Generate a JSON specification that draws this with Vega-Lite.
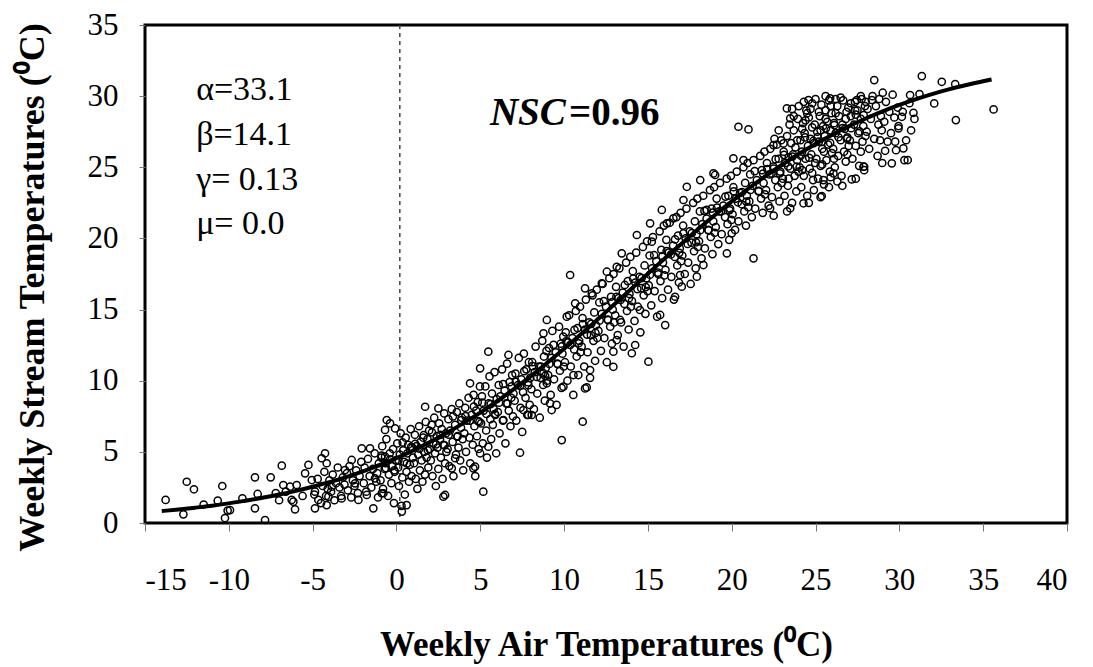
{
  "$schema": "https://vega.github.io/schema/vega-lite/v6.json",
  "width": 922,
  "height": 498,
  "autosize": {"type": "none"},
  "padding": {"left": 145, "top": 25, "right": 26, "bottom": 144},
  "background": "white",
  "config": {
    "view": {"stroke": "black", "strokeWidth": 3},
    "font": "Liberation Serif"
  },
  "datasets": {
    "obs": [
      {"air":-13.77,"stream":1.62},{"air":-12.71,"stream":0.61},{"air":-12.51,"stream":2.9},{"air":-12.08,"stream":2.37},{"air":-10.39,"stream":2.6},{"air":-10.66,"stream":1.57},{"air":-10.07,"stream":0.87},{"air":-10.23,"stream":0.35},{"air":-9.93,"stream":0.91},{"air":-9.19,"stream":1.73},{"air":-8.44,"stream":3.21},{"air":-7.5,"stream":3.21},{"air":-6.84,"stream":4.03},{"air":-8.28,"stream":2.04},{"air":-8.44,"stream":1.03},{"air":-7.84,"stream":0.21},{"air":-6.75,"stream":2.67},{"air":-6.25,"stream":1.62},{"air":-6.05,"stream":0.96},{"air":-5.95,"stream":2.67},{"air":-6.15,"stream":1.5},{"air":-6.35,"stream":2.55},{"air":-5.25,"stream":4.08},{"air":-5.45,"stream":3.49},{"air":-5.05,"stream":3.02},{"air":-5.6,"stream":1.9},{"air":-6.6,"stream":2.2},{"air":-7.2,"stream":2.1},{"air":-7.0,"stream":1.6},{"air":-11.5,"stream":1.3},
      {"air":-4.46,"stream":4.55},{"air":-4.26,"stream":4.9},{"air":-4.16,"stream":4.2},{"air":-4.86,"stream":2.2},{"air":-4.66,"stream":1.62},{"air":-4.86,"stream":1.03},{"air":-4.16,"stream":1.26},{"air":-4.06,"stream":1.85},{"air":-3.86,"stream":2.55},{"air":-3.27,"stream":1.73},{"air":-3.07,"stream":3.72},{"air":-2.67,"stream":4.43},{"air":-2.47,"stream":2.79},{"air":-2.07,"stream":5.25},{"air":-1.58,"stream":5.25},{"air":-2.27,"stream":1.62},{"air":-1.77,"stream":1.97},{"air":-1.38,"stream":1.03},{"air":-1.28,"stream":3.14},{"air":-0.88,"stream":2.09},{"air":-0.68,"stream":4.66},{"air":-0.68,"stream":6.54},{"air":-0.38,"stream":7.0},{"air":-0.58,"stream":7.24},{"air":-0.08,"stream":6.65},{"air":-0.78,"stream":2.09},{"air":0.32,"stream":0.8},{"air":0.61,"stream":1.26},
      {"air":1.71,"stream":8.17},{"air":2.5,"stream":8.06},{"air":2.9,"stream":1.97},{"air":2.8,"stream":1.85},{"air":3.3,"stream":3.84},{"air":3.5,"stream":4.55},{"air":4.39,"stream":9.82},{"air":4.99,"stream":10.87},{"air":5.48,"stream":12.04},{"air":5.18,"stream":2.2},{"air":4.69,"stream":3.96},{"air":4.59,"stream":3.84},{"air":4.99,"stream":4.9},{"air":5.48,"stream":5.36},{"air":6.38,"stream":7.24},{"air":6.68,"stream":11.81},{"air":7.37,"stream":4.94},{"air":7.57,"stream":7.94},{"air":7.87,"stream":7.59},{"air":8.07,"stream":7.59},{"air":9.16,"stream":8.41},{"air":9.26,"stream":7.94},{"air":9.86,"stream":5.83},{"air":9.96,"stream":9.58},{"air":10.56,"stream":10.4},{"air":8.97,"stream":9.82},{"air":8.77,"stream":10.52},{"air":11.11,"stream":7.12},{"air":11.25,"stream":9.46},{"air":11.35,"stream":9.53},{"air":11.55,"stream":10.75},{"air":12.94,"stream":10.98},{"air":12.94,"stream":12.04},{"air":14.04,"stream":11.93},{"air":14.24,"stream":12.51},{"air":15.03,"stream":11.34},{"air":13.14,"stream":12.86},{"air":13.34,"stream":14.27},{"air":14.53,"stream":14.97},{"air":16.03,"stream":13.91},{"air":15.73,"stream":14.62},
      {"air":10.36,"stream":17.43},{"air":11.25,"stream":16.49},{"air":11.65,"stream":16.14},{"air":10.66,"stream":15.44},{"air":12.25,"stream":16.84},{"air":12.55,"stream":17.66},{"air":13.14,"stream":18.01},{"air":13.44,"stream":18.95},{"air":14.34,"stream":20.24},{"air":15.13,"stream":21.06},{"air":15.23,"stream":19.77},{"air":15.83,"stream":22.0},{"air":16.52,"stream":21.41},{"air":16.13,"stream":21.06},{"air":17.32,"stream":23.63},{"air":17.12,"stream":22.7},{"air":18.91,"stream":24.57},{"air":18.12,"stream":24.1},{"air":8.97,"stream":14.27},{"air":10.16,"stream":14.5},{"air":8.77,"stream":13.33},
      {"air":20.0,"stream":20.36},{"air":19.71,"stream":18.95},{"air":18.31,"stream":18.13},{"air":17.92,"stream":17.31},{"air":16.92,"stream":17.43},{"air":17.02,"stream":16.61},{"air":16.62,"stream":15.9},{"air":21.3,"stream":18.6},{"air":20.4,"stream":27.85},{"air":21.0,"stream":27.66},{"air":20.1,"stream":25.63},{"air":20.7,"stream":25.51},{"air":19.01,"stream":24.46},{"air":18.51,"stream":22.0},{"air":25.37,"stream":22.98},{"air":27.16,"stream":24.15},{"air":24.28,"stream":22.47},{"air":23.49,"stream":22.12},{"air":22.29,"stream":22.12},{"air":25.47,"stream":24.1},{"air":26.07,"stream":24.57},{"air":27.86,"stream":25.04},{"air":22.49,"stream":26.56},{"air":23.09,"stream":26.68},{"air":23.29,"stream":29.14},{"air":23.49,"stream":28.44},{"air":24.58,"stream":29.73},{"air":25.87,"stream":29.85},{"air":27.46,"stream":29.73},{"air":28.36,"stream":29.73},{"air":22.49,"stream":25.04},
      {"air":28.5,"stream":31.13},{"air":31.34,"stream":31.41},{"air":32.53,"stream":31.01},{"air":33.33,"stream":30.85},{"air":29.01,"stream":30.24},{"air":30.64,"stream":30.08},{"air":31.2,"stream":30.15},{"air":32.08,"stream":29.49},{"air":30.84,"stream":28.83},{"air":33.37,"stream":28.32},{"air":35.62,"stream":29.07},{"air":30.5,"stream":25.51},{"air":29.55,"stream":25.28},{"air":30.24,"stream":26.33},{"air":29.95,"stream":27.74},{"air":29.15,"stream":26.16},{"air":27.9,"stream":25.04},{"air":29.75,"stream":26.8},{"air":30.15,"stream":28.55},
      {"air":-4.9,"stream":2.0},{"air":-4.7,"stream":3.1},{"air":-4.5,"stream":1.4},{"air":-4.4,"stream":2.6},{"air":-4.3,"stream":3.6},{"air":-4.2,"stream":1.9},{"air":-4.1,"stream":2.4},{"air":-4.0,"stream":3.0},
      {"air":-3.9,"stream":2.2},{"air":-3.8,"stream":3.4},{"air":-3.7,"stream":1.6},{"air":-3.6,"stream":2.8},{"air":-3.5,"stream":3.9},{"air":-3.4,"stream":2.5},{"air":-3.3,"stream":1.9},{"air":-3.2,"stream":3.2},{"air":-3.1,"stream":2.7},
      {"air":-2.95,"stream":3.5},{"air":-2.9,"stream":2.3},{"air":-2.8,"stream":4.0},{"air":-2.7,"stream":1.8},{"air":-2.6,"stream":3.0},{"air":-2.5,"stream":2.6},{"air":-2.4,"stream":3.7},{"air":-2.3,"stream":2.1},{"air":-2.2,"stream":3.3},{"air":-2.1,"stream":4.3},
      {"air":-1.95,"stream":2.8},{"air":-1.9,"stream":3.9},{"air":-1.8,"stream":2.2},{"air":-1.7,"stream":4.5},{"air":-1.6,"stream":3.3},{"air":-1.5,"stream":2.5},{"air":-1.4,"stream":3.8},{"air":-1.3,"stream":4.9},{"air":-1.2,"stream":2.9},{"air":-1.15,"stream":3.5},{"air":-1.1,"stream":1.8},{"air":-1.05,"stream":4.2},
      {"air":-0.95,"stream":3.0},{"air":-0.9,"stream":4.6},{"air":-0.85,"stream":5.4},{"air":-0.8,"stream":2.4},{"air":-0.7,"stream":3.8},{"air":-0.65,"stream":4.2},{"air":-0.6,"stream":5.9},{"air":-0.5,"stream":1.9},{"air":-0.45,"stream":3.4},{"air":-0.4,"stream":4.9},{"air":-0.3,"stream":2.8},{"air":-0.25,"stream":4.0},{"air":-0.2,"stream":5.2},{"air":-0.15,"stream":1.4},{"air":-0.1,"stream":3.6},{"air":-0.05,"stream":4.4},
      {"air":0.05,"stream":5.6},{"air":0.1,"stream":3.9},{"air":0.15,"stream":2.6},{"air":0.2,"stream":4.8},{"air":0.25,"stream":6.3},{"air":0.3,"stream":1.2},{"air":0.35,"stream":3.2},{"air":0.4,"stream":5.1},{"air":0.45,"stream":4.3},{"air":0.5,"stream":2.0},{"air":0.55,"stream":6.0},{"air":0.6,"stream":3.6},{"air":0.65,"stream":4.9},{"air":0.7,"stream":5.5},{"air":0.75,"stream":2.9},{"air":0.8,"stream":4.1},{"air":0.85,"stream":6.6},{"air":0.9,"stream":3.3},{"air":0.95,"stream":5.3},{"air":0.98,"stream":4.6},
      {"air":1.05,"stream":4.2},{"air":1.1,"stream":6.2},{"air":1.15,"stream":3.1},{"air":1.2,"stream":5.4},{"air":1.25,"stream":2.4},{"air":1.3,"stream":4.8},{"air":1.35,"stream":6.8},{"air":1.4,"stream":3.7},{"air":1.45,"stream":5.7},{"air":1.5,"stream":4.4},{"air":1.55,"stream":2.9},{"air":1.6,"stream":6.0},{"air":1.65,"stream":5.0},{"air":1.7,"stream":3.4},{"air":1.75,"stream":7.1},{"air":1.8,"stream":4.6},{"air":1.85,"stream":5.9},{"air":1.9,"stream":3.9},{"air":1.95,"stream":6.5},{"air":1.98,"stream":5.2},
      {"air":2.05,"stream":4.4},{"air":2.1,"stream":6.9},{"air":2.15,"stream":3.3},{"air":2.2,"stream":5.6},{"air":2.25,"stream":7.4},{"air":2.3,"stream":4.9},{"air":2.35,"stream":2.6},{"air":2.4,"stream":6.1},{"air":2.45,"stream":5.3},{"air":2.5,"stream":3.8},{"air":2.55,"stream":7.0},{"air":2.6,"stream":5.9},{"air":2.65,"stream":4.6},{"air":2.7,"stream":6.6},{"air":2.75,"stream":3.1},{"air":2.8,"stream":5.5},{"air":2.85,"stream":7.7},{"air":2.9,"stream":4.2},{"air":2.95,"stream":6.3},{"air":2.98,"stream":5.0},
      {"air":3.05,"stream":5.2},{"air":3.1,"stream":7.3},{"air":3.15,"stream":4.0},{"air":3.2,"stream":6.5},{"air":3.3,"stream":8.0},{"air":3.35,"stream":5.7},{"air":3.4,"stream":3.3},{"air":3.5,"stream":6.9},{"air":3.55,"stream":4.8},{"air":3.6,"stream":7.8},{"air":3.65,"stream":6.1},{"air":3.7,"stream":5.3},{"air":3.75,"stream":8.4},{"air":3.8,"stream":4.4},{"air":3.85,"stream":6.7},{"air":3.9,"stream":7.4},{"air":3.95,"stream":5.9},{"air":3.98,"stream":3.7},
      {"air":4.05,"stream":6.3},{"air":4.1,"stream":8.1},{"air":4.15,"stream":5.0},{"air":4.2,"stream":7.2},{"air":4.3,"stream":8.8},{"air":4.35,"stream":6.0},{"air":4.4,"stream":4.2},{"air":4.5,"stream":7.6},{"air":4.55,"stream":5.5},{"air":4.6,"stream":9.0},{"air":4.65,"stream":6.8},{"air":4.7,"stream":3.3},{"air":4.75,"stream":7.9},{"air":4.8,"stream":6.1},{"air":4.85,"stream":8.5},{"air":4.9,"stream":5.2},{"air":4.95,"stream":7.1},{"air":4.98,"stream":9.6},
      {"air":5.05,"stream":7.0},{"air":5.1,"stream":8.9},{"air":5.15,"stream":5.6},{"air":5.2,"stream":7.9},{"air":5.3,"stream":9.6},{"air":5.35,"stream":6.5},{"air":5.4,"stream":4.6},{"air":5.5,"stream":8.4},{"air":5.55,"stream":10.3},{"air":5.6,"stream":7.3},{"air":5.65,"stream":5.9},{"air":5.7,"stream":9.1},{"air":5.75,"stream":6.9},{"air":5.8,"stream":8.0},{"air":5.85,"stream":10.6},{"air":5.9,"stream":7.6},{"air":5.95,"stream":4.9},{"air":5.98,"stream":8.7},
      {"air":6.05,"stream":7.8},{"air":6.1,"stream":9.7},{"air":6.15,"stream":6.3},{"air":6.2,"stream":8.9},{"air":6.3,"stream":10.8},{"air":6.35,"stream":7.2},{"air":6.45,"stream":9.3},{"air":6.5,"stream":5.6},{"air":6.55,"stream":8.4},{"air":6.6,"stream":11.2},{"air":6.7,"stream":7.9},{"air":6.75,"stream":9.9},{"air":6.8,"stream":6.8},{"air":6.85,"stream":8.8},{"air":6.9,"stream":10.4},{"air":6.95,"stream":7.5},{"air":6.98,"stream":9.1},
      {"air":7.05,"stream":8.6},{"air":7.1,"stream":10.5},{"air":7.15,"stream":7.2},{"air":7.25,"stream":9.7},{"air":7.3,"stream":11.6},{"air":7.4,"stream":8.1},{"air":7.45,"stream":10.1},{"air":7.5,"stream":6.4},{"air":7.55,"stream":9.2},{"air":7.6,"stream":11.9},{"air":7.7,"stream":8.8},{"air":7.75,"stream":10.8},{"air":7.8,"stream":7.6},{"air":7.85,"stream":9.9},{"air":7.9,"stream":11.3},{"air":7.95,"stream":8.3},{"air":7.98,"stream":10.2},
      {"air":8.05,"stream":9.4},{"air":8.1,"stream":11.3},{"air":8.2,"stream":8.0},{"air":8.25,"stream":10.6},{"air":8.3,"stream":12.4},{"air":8.4,"stream":9.1},{"air":8.5,"stream":11.0},{"air":8.55,"stream":7.4},{"air":8.6,"stream":10.2},{"air":8.7,"stream":12.8},{"air":8.75,"stream":9.7},{"air":8.8,"stream":11.7},{"air":8.85,"stream":8.6},{"air":8.9,"stream":10.9},{"air":8.95,"stream":12.1},{"air":8.98,"stream":10.0},
      {"air":9.05,"stream":10.4},{"air":9.1,"stream":12.3},{"air":9.2,"stream":9.0},{"air":9.25,"stream":11.6},{"air":9.3,"stream":13.5},{"air":9.4,"stream":10.1},{"air":9.5,"stream":12.0},{"air":9.55,"stream":8.3},{"air":9.6,"stream":11.2},{"air":9.7,"stream":13.8},{"air":9.75,"stream":10.7},{"air":9.8,"stream":12.6},{"air":9.85,"stream":9.5},{"air":9.9,"stream":11.9},{"air":9.95,"stream":13.1},{"air":9.98,"stream":11.0},
      {"air":10.05,"stream":11.3},{"air":10.1,"stream":13.4},{"air":10.2,"stream":10.0},{"air":10.25,"stream":12.7},{"air":10.3,"stream":14.6},{"air":10.4,"stream":11.0},{"air":10.5,"stream":13.0},{"air":10.55,"stream":9.0},{"air":10.6,"stream":12.2},{"air":10.7,"stream":14.9},{"air":10.75,"stream":11.7},{"air":10.8,"stream":13.7},{"air":10.85,"stream":10.4},{"air":10.9,"stream":12.8},{"air":10.95,"stream":15.2},{"air":10.98,"stream":12.0},
      {"air":11.05,"stream":12.4},{"air":11.1,"stream":14.4},{"air":11.2,"stream":11.0},{"air":11.25,"stream":13.6},{"air":11.3,"stream":15.7},{"air":11.4,"stream":12.0},{"air":11.5,"stream":14.1},{"air":11.55,"stream":10.2},{"air":11.6,"stream":13.2},{"air":11.7,"stream":16.0},{"air":11.75,"stream":12.8},{"air":11.8,"stream":14.8},{"air":11.85,"stream":11.4},{"air":11.9,"stream":13.9},{"air":11.95,"stream":16.4},{"air":11.98,"stream":13.0},
      {"air":12.05,"stream":13.5},{"air":12.1,"stream":15.5},{"air":12.2,"stream":12.1},{"air":12.25,"stream":14.7},{"air":12.3,"stream":16.8},{"air":12.4,"stream":13.0},{"air":12.5,"stream":15.2},{"air":12.55,"stream":11.3},{"air":12.6,"stream":14.3},{"air":12.7,"stream":17.2},{"air":12.75,"stream":13.8},{"air":12.8,"stream":15.9},{"air":12.85,"stream":12.6},{"air":12.9,"stream":15.0},{"air":12.95,"stream":17.5},{"air":12.98,"stream":14.1},
      {"air":13.05,"stream":14.6},{"air":13.1,"stream":16.6},{"air":13.2,"stream":13.2},{"air":13.25,"stream":15.8},{"air":13.3,"stream":17.9},{"air":13.4,"stream":14.1},{"air":13.5,"stream":16.2},{"air":13.55,"stream":12.4},{"air":13.6,"stream":15.4},{"air":13.7,"stream":18.3},{"air":13.75,"stream":14.9},{"air":13.8,"stream":17.0},{"air":13.85,"stream":13.6},{"air":13.9,"stream":16.1},{"air":13.95,"stream":18.7},{"air":13.98,"stream":15.2},
      {"air":14.05,"stream":15.6},{"air":14.1,"stream":17.7},{"air":14.2,"stream":14.2},{"air":14.25,"stream":16.9},{"air":14.3,"stream":19.0},{"air":14.4,"stream":15.2},{"air":14.5,"stream":17.3},{"air":14.55,"stream":13.4},{"air":14.6,"stream":16.5},{"air":14.7,"stream":19.4},{"air":14.75,"stream":16.0},{"air":14.8,"stream":18.1},{"air":14.85,"stream":14.7},{"air":14.9,"stream":17.2},{"air":14.95,"stream":19.8},{"air":14.98,"stream":16.3},
      {"air":15.05,"stream":16.7},{"air":15.1,"stream":18.8},{"air":15.2,"stream":15.3},{"air":15.25,"stream":17.9},{"air":15.3,"stream":20.1},{"air":15.4,"stream":16.3},{"air":15.5,"stream":18.4},{"air":15.55,"stream":14.5},{"air":15.6,"stream":17.6},{"air":15.7,"stream":20.5},{"air":15.75,"stream":17.0},{"air":15.8,"stream":19.2},{"air":15.85,"stream":15.8},{"air":15.9,"stream":18.3},{"air":15.95,"stream":20.9},{"air":15.98,"stream":17.4},
      {"air":16.05,"stream":17.8},{"air":16.1,"stream":19.9},{"air":16.2,"stream":16.4},{"air":16.25,"stream":19.0},{"air":16.3,"stream":21.1},{"air":16.4,"stream":17.3},{"air":16.5,"stream":19.5},{"air":16.55,"stream":15.7},{"air":16.6,"stream":18.7},{"air":16.7,"stream":21.5},{"air":16.75,"stream":18.1},{"air":16.8,"stream":20.2},{"air":16.85,"stream":16.9},{"air":16.9,"stream":19.3},{"air":16.95,"stream":21.8},{"air":16.98,"stream":18.4},
      {"air":17.05,"stream":18.8},{"air":17.1,"stream":20.9},{"air":17.2,"stream":17.5},{"air":17.25,"stream":20.0},{"air":17.3,"stream":22.1},{"air":17.4,"stream":18.3},{"air":17.5,"stream":20.5},{"air":17.55,"stream":16.8},{"air":17.6,"stream":19.7},{"air":17.7,"stream":22.5},{"air":17.75,"stream":19.1},{"air":17.8,"stream":21.2},{"air":17.85,"stream":17.9},{"air":17.9,"stream":20.3},{"air":17.95,"stream":22.8},{"air":17.98,"stream":19.4},
      {"air":18.05,"stream":19.8},{"air":18.1,"stream":21.9},{"air":18.2,"stream":18.6},{"air":18.25,"stream":21.0},{"air":18.3,"stream":23.0},{"air":18.4,"stream":19.3},{"air":18.5,"stream":21.4},{"air":18.6,"stream":20.6},{"air":18.7,"stream":23.4},{"air":18.75,"stream":20.1},{"air":18.8,"stream":22.1},{"air":18.85,"stream":18.9},{"air":18.9,"stream":21.2},{"air":18.95,"stream":23.6},{"air":18.98,"stream":20.4},
      {"air":19.05,"stream":20.8},{"air":19.1,"stream":22.8},{"air":19.2,"stream":19.6},{"air":19.25,"stream":21.9},{"air":19.3,"stream":23.9},{"air":19.4,"stream":20.3},{"air":19.5,"stream":22.3},{"air":19.6,"stream":21.5},{"air":19.7,"stream":24.2},{"air":19.75,"stream":21.0},{"air":19.8,"stream":23.0},{"air":19.85,"stream":19.9},{"air":19.9,"stream":22.1},{"air":19.95,"stream":24.4},{"air":19.98,"stream":21.3},
      {"air":20.05,"stream":21.7},{"air":20.1,"stream":23.6},{"air":20.2,"stream":20.6},{"air":20.25,"stream":22.8},{"air":20.3,"stream":24.7},{"air":20.4,"stream":21.2},{"air":20.5,"stream":23.2},{"air":20.6,"stream":22.4},{"air":20.7,"stream":25.0},{"air":20.75,"stream":21.9},{"air":20.8,"stream":23.9},{"air":20.85,"stream":20.9},{"air":20.9,"stream":23.0},{"air":20.95,"stream":25.3},{"air":20.98,"stream":22.2},
      {"air":21.05,"stream":22.6},{"air":21.1,"stream":24.5},{"air":21.2,"stream":21.5},{"air":21.25,"stream":23.7},{"air":21.3,"stream":25.5},{"air":21.4,"stream":22.1},{"air":21.5,"stream":24.1},{"air":21.6,"stream":23.3},{"air":21.7,"stream":25.8},{"air":21.75,"stream":22.8},{"air":21.8,"stream":24.8},{"air":21.85,"stream":21.8},{"air":21.9,"stream":23.9},{"air":21.95,"stream":26.1},{"air":21.98,"stream":23.1},
      {"air":22.05,"stream":23.4},{"air":22.1,"stream":25.3},{"air":22.2,"stream":22.3},{"air":22.25,"stream":24.5},{"air":22.3,"stream":26.3},{"air":22.4,"stream":22.9},{"air":22.5,"stream":24.9},{"air":22.55,"stream":27.0},{"air":22.6,"stream":24.1},{"air":22.7,"stream":26.6},{"air":22.75,"stream":23.6},{"air":22.8,"stream":25.6},{"air":22.85,"stream":22.6},{"air":22.9,"stream":24.7},{"air":22.95,"stream":26.9},{"air":22.98,"stream":23.9},{"air":22.5,"stream":21.6},{"air":22.8,"stream":27.6},
      {"air":23.05,"stream":24.2},{"air":23.1,"stream":26.1},{"air":23.15,"stream":23.0},{"air":23.2,"stream":25.3},{"air":23.3,"stream":27.2},{"air":23.35,"stream":23.7},{"air":23.4,"stream":25.7},{"air":23.45,"stream":28.0},{"air":23.5,"stream":24.9},{"air":23.55,"stream":26.7},{"air":23.6,"stream":22.5},{"air":23.65,"stream":25.9},{"air":23.7,"stream":27.6},{"air":23.75,"stream":24.4},{"air":23.8,"stream":26.4},{"air":23.85,"stream":23.3},{"air":23.9,"stream":25.5},{"air":23.95,"stream":28.4},{"air":23.98,"stream":24.7},{"air":23.3,"stream":21.9},{"air":23.6,"stream":29.1},{"air":23.9,"stream":26.9},
      {"air":24.05,"stream":25.0},{"air":24.1,"stream":26.9},{"air":24.15,"stream":23.6},{"air":24.2,"stream":26.1},{"air":24.25,"stream":28.1},{"air":24.3,"stream":24.4},{"air":24.35,"stream":27.4},{"air":24.4,"stream":25.6},{"air":24.45,"stream":29.0},{"air":24.5,"stream":23.0},{"air":24.55,"stream":26.5},{"air":24.6,"stream":28.5},{"air":24.65,"stream":24.9},{"air":24.7,"stream":27.0},{"air":24.75,"stream":25.9},{"air":24.8,"stream":29.5},{"air":24.85,"stream":24.1},{"air":24.9,"stream":26.7},{"air":24.95,"stream":28.0},{"air":24.98,"stream":25.3},{"air":24.3,"stream":29.6},{"air":24.6,"stream":22.5},{"air":24.8,"stream":27.8},{"air":24.2,"stream":27.7},{"air":24.5,"stream":28.8},{"air":24.9,"stream":23.4},
      {"air":25.05,"stream":25.6},{"air":25.1,"stream":27.5},{"air":25.15,"stream":24.2},{"air":25.2,"stream":26.8},{"air":25.25,"stream":28.6},{"air":25.3,"stream":25.1},{"air":25.35,"stream":29.4},{"air":25.4,"stream":26.3},{"air":25.45,"stream":27.9},{"air":25.5,"stream":23.8},{"air":25.55,"stream":27.2},{"air":25.6,"stream":29.0},{"air":25.65,"stream":25.5},{"air":25.7,"stream":28.2},{"air":25.75,"stream":26.6},{"air":25.8,"stream":29.7},{"air":25.85,"stream":24.7},{"air":25.9,"stream":27.6},{"air":25.95,"stream":28.8},{"air":25.98,"stream":26.0},{"air":25.3,"stream":22.9},{"air":25.6,"stream":30.0},{"air":25.8,"stream":23.6},{"air":25.2,"stream":28.9},{"air":25.5,"stream":26.1},{"air":25.9,"stream":24.3},
      {"air":26.05,"stream":26.3},{"air":26.1,"stream":28.1},{"air":26.15,"stream":25.0},{"air":26.2,"stream":27.4},{"air":26.3,"stream":29.3},{"air":26.35,"stream":25.8},{"air":26.4,"stream":28.6},{"air":26.5,"stream":26.9},{"air":26.55,"stream":24.4},{"air":26.6,"stream":28.0},{"air":26.65,"stream":29.7},{"air":26.7,"stream":26.1},{"air":26.75,"stream":27.7},{"air":26.8,"stream":25.4},{"air":26.85,"stream":28.9},{"air":26.9,"stream":27.1},{"air":26.95,"stream":29.2},{"air":26.98,"stream":26.5},{"air":26.3,"stream":24.0},{"air":26.6,"stream":23.7},{"air":26.9,"stream":25.9},{"air":26.2,"stream":29.8},
      {"air":27.05,"stream":26.9},{"air":27.1,"stream":28.6},{"air":27.2,"stream":25.6},{"air":27.3,"stream":28.0},{"air":27.35,"stream":29.6},{"air":27.4,"stream":26.5},{"air":27.5,"stream":29.0},{"air":27.55,"stream":27.4},{"air":27.6,"stream":25.1},{"air":27.7,"stream":28.4},{"air":27.75,"stream":29.8},{"air":27.8,"stream":26.8},{"air":27.85,"stream":27.9},{"air":27.9,"stream":24.8},{"air":27.95,"stream":29.3},{"air":27.98,"stream":27.2},{"air":27.4,"stream":24.2},{"air":27.7,"stream":26.1},
      {"air":28.05,"stream":27.5},{"air":28.1,"stream":29.1},{"air":28.2,"stream":26.3},{"air":28.3,"stream":28.4},{"air":28.4,"stream":30.0},{"air":28.5,"stream":27.0},{"air":28.6,"stream":29.3},{"air":28.7,"stream":25.8},{"air":28.75,"stream":28.0},{"air":28.8,"stream":29.8},{"air":28.85,"stream":26.9},{"air":28.9,"stream":28.6},{"air":28.95,"stream":27.6},{"air":28.98,"stream":25.3},
      {"air":29.1,"stream":28.2},{"air":29.2,"stream":29.6},{"air":29.3,"stream":26.8},{"air":29.4,"stream":28.9},{"air":29.5,"stream":27.4},{"air":29.6,"stream":30.1},{"air":29.7,"stream":28.5},{"air":29.8,"stream":26.2},{"air":29.9,"stream":29.2},{"air":29.95,"stream":27.9},
      {"air":30.2,"stream":28.9},{"air":30.4,"stream":26.9},{"air":30.6,"stream":29.5},{"air":30.7,"stream":27.6},{"air":30.9,"stream":28.4},{"air":30.3,"stream":25.5},
      {"air":-0.88,"stream":4.74},{"air":-0.63,"stream":3.86},{"air":-0.38,"stream":4.48},{"air":-0.13,"stream":3.7},
      {"air":0.12,"stream":4.42},{"air":0.37,"stream":5.66},{"air":0.62,"stream":4.19},{"air":0.87,"stream":5.33},
      {"air":1.12,"stream":5.57},{"air":1.37,"stream":5.22},{"air":1.62,"stream":6.17},{"air":1.87,"stream":5.11},
      {"air":2.12,"stream":6.37},{"air":2.37,"stream":5.53},{"air":2.62,"stream":6.19},{"air":2.87,"stream":5.45},
      {"air":3.12,"stream":6.21},{"air":3.37,"stream":7.49},{"air":3.62,"stream":6.06},{"air":3.87,"stream":7.23},
      {"air":4.12,"stream":7.51},{"air":4.37,"stream":7.19},{"air":4.62,"stream":8.18},{"air":4.87,"stream":7.16},
      {"air":5.12,"stream":8.46},{"air":5.37,"stream":7.66},{"air":5.62,"stream":8.36},{"air":5.87,"stream":7.66},
      {"air":6.12,"stream":8.46},{"air":6.37,"stream":9.77},{"air":6.62,"stream":8.39},{"air":6.87,"stream":9.6},
      {"air":7.12,"stream":9.92},{"air":7.37,"stream":9.64},{"air":7.62,"stream":10.67},{"air":7.87,"stream":9.69},
      {"air":8.12,"stream":11.02},{"air":8.37,"stream":10.26},{"air":8.62,"stream":11.0},{"air":8.87,"stream":10.34},
      {"air":9.12,"stream":11.18},{"air":9.37,"stream":12.52},{"air":9.62,"stream":11.17},{"air":9.87,"stream":12.41},
      {"air":10.12,"stream":12.76},{"air":10.37,"stream":12.52},{"air":10.62,"stream":13.57},{"air":10.87,"stream":12.63},
      {"air":11.12,"stream":13.98},{"air":11.37,"stream":13.24},{"air":11.62,"stream":14.0},{"air":11.87,"stream":13.36},
      {"air":12.12,"stream":14.23},{"air":12.37,"stream":15.6},{"air":12.62,"stream":14.26},{"air":12.87,"stream":15.53},
      {"air":13.12,"stream":15.9},{"air":13.37,"stream":15.67},{"air":13.62,"stream":16.73},{"air":13.87,"stream":15.8},
      {"air":14.12,"stream":17.17},{"air":14.37,"stream":16.44},{"air":14.62,"stream":17.21},{"air":14.87,"stream":16.58},
      {"air":15.12,"stream":17.45},{"air":15.37,"stream":18.82},{"air":15.62,"stream":17.48},{"air":15.87,"stream":18.75},
      {"air":16.12,"stream":19.11},{"air":16.37,"stream":18.87},{"air":16.62,"stream":19.93},{"air":16.87,"stream":18.99},
      {"air":17.12,"stream":20.35},{"air":17.37,"stream":19.61},{"air":17.62,"stream":20.37},{"air":17.87,"stream":19.73},
      {"air":18.12,"stream":20.58},{"air":18.37,"stream":21.93},{"air":18.62,"stream":20.57},{"air":18.87,"stream":21.82},
      {"air":19.12,"stream":22.16},{"air":19.37,"stream":21.9},{"air":19.62,"stream":22.94},{"air":19.87,"stream":21.98},
      {"air":20.12,"stream":23.31},{"air":20.37,"stream":22.54},{"air":20.62,"stream":23.26},{"air":20.87,"stream":22.59},
      {"air":21.12,"stream":23.41},{"air":21.37,"stream":24.73},{"air":21.62,"stream":23.34},{"air":21.87,"stream":24.56},
      {"air":22.12,"stream":24.87},{"air":22.37,"stream":24.57},{"air":22.62,"stream":25.57},{"air":22.87,"stream":24.57},
      {"air":23.12,"stream":25.87},{"air":23.37,"stream":25.06},{"air":23.62,"stream":25.75},{"air":23.87,"stream":25.04},
      {"air":24.12,"stream":25.82},{"air":24.37,"stream":27.1},{"air":24.62,"stream":25.67},{"air":24.87,"stream":26.85},
      {"air":25.12,"stream":27.12},{"air":25.37,"stream":26.78},{"air":25.62,"stream":27.74},{"air":25.87,"stream":26.71},
      {"air":26.12,"stream":27.96},{"air":26.37,"stream":27.11},{"air":26.62,"stream":27.76},{"air":26.87,"stream":27.01},
      {"air":27.12,"stream":27.75},{"air":27.37,"stream":28.99},{"air":27.62,"stream":27.52},{"air":27.87,"stream":28.66},
      {"air":23.7,"stream":28.6},{"air":24.0,"stream":29.3},{"air":24.4,"stream":28.3},{"air":24.7,"stream":29.1},{"air":25.0,"stream":29.8},{"air":25.3,"stream":27.6},{"air":25.6,"stream":28.4},{"air":25.9,"stream":29.3},{"air":26.2,"stream":28.8},{"air":26.5,"stream":29.9},{"air":26.8,"stream":28.4},{"air":27.1,"stream":29.5},{"air":27.4,"stream":28.7},{"air":27.7,"stream":30.0},{"air":28.0,"stream":29.6},{"air":24.2,"stream":24.8},{"air":24.8,"stream":24.6},{"air":25.4,"stream":25.2},{"air":26.1,"stream":25.6},{"air":23.4,"stream":24.2}
    ],
    "curve": [
      {"air":-14,"stream":0.84},{"air":-13,"stream":0.95},{"air":-12,"stream":1.08},{"air":-11,"stream":1.22},{"air":-10,"stream":1.38},{"air":-9,"stream":1.57},{"air":-8,"stream":1.77},{"air":-7,"stream":2.0},{"air":-6,"stream":2.26},{"air":-5,"stream":2.55},{"air":-4,"stream":2.87},{"air":-3,"stream":3.23},{"air":-2,"stream":3.63},{"air":-1,"stream":4.08},{"air":0,"stream":4.56},{"air":1,"stream":5.1},{"air":2,"stream":5.69},{"air":3,"stream":6.33},{"air":4,"stream":7.02},{"air":5,"stream":7.76},{"air":6,"stream":8.56},{"air":7,"stream":9.41},{"air":8,"stream":10.31},{"air":9,"stream":11.26},{"air":10,"stream":12.24},{"air":11,"stream":13.26},{"air":12,"stream":14.3},{"air":13,"stream":15.37},{"air":14,"stream":16.44},{"air":15,"stream":17.52},{"air":16,"stream":18.59},{"air":17,"stream":19.63},{"air":18,"stream":20.66},{"air":19,"stream":21.65},{"air":20,"stream":22.6},{"air":21,"stream":23.51},{"air":22,"stream":24.37},{"air":23,"stream":25.18},{"air":24,"stream":25.94},{"air":25,"stream":26.64},{"air":26,"stream":27.29},{"air":27,"stream":27.89},{"air":28,"stream":28.43},{"air":29,"stream":28.93},{"air":30,"stream":29.38},{"air":31,"stream":29.79},{"air":32,"stream":30.16},{"air":33,"stream":30.49},{"air":34,"stream":30.78},{"air":35,"stream":31.05},{"air":35.5,"stream":31.17}
    ],
    "params": [
      {"air":-11.95,"stream":29.73,"label":"α=33.1"},
      {"air":-11.95,"stream":26.56,"label":"β=14.1"},
      {"air":-11.95,"stream":23.4,"label":"γ= 0.13"},
      {"air":-11.95,"stream":20.31,"label":"μ= 0.0"}
    ]
  },
  "layer": [
    {
      "data": {"values": [{"air": 0.2}]},
      "mark": {"type": "rule", "color": "#444", "strokeWidth": 1.5, "strokeDash": [4, 4]},
      "encoding": {
        "x": {"field": "air", "type": "quantitative", "scale": {"domain": [-15, 40], "nice": false, "zero": false}}
      }
    },
    {
      "data": {"name": "obs"},
      "mark": {"type": "point", "shape": "circle", "filled": false, "color": "black", "size": 52, "strokeWidth": 1.5, "opacity": 1},
      "encoding": {
        "x": {
          "field": "air", "type": "quantitative",
          "scale": {"domain": [-15, 40], "nice": false, "zero": false},
          "axis": {
            "values": [-15, -10, -5, 0, 5, 10, 15, 20, 25, 30, 35, 40],
            "labelExpr": "'' + datum.value",
            "grid": false, "domain": false,
            "tickColor": "#777", "tickSize": 8, "tickWidth": 1,
            "labelFont": "Liberation Serif", "labelFontSize": 31, "labelColor": "black", "labelPadding": 34,
            "title": "Weekly Air Temperatures (⁰C)",
            "titleFont": "Liberation Serif", "titleFontSize": 35, "titleFontWeight": "bold", "titleColor": "black",
            "titleBaseline": "alphabetic", "titleY": 132
          }
        },
        "y": {
          "field": "stream", "type": "quantitative",
          "scale": {"domain": [0, 35], "nice": false, "zero": false},
          "axis": {
            "values": [0, 5, 10, 15, 20, 25, 30, 35],
            "labelExpr": "'' + datum.value",
            "grid": false, "domain": false,
            "tickColor": "#777", "tickSize": 6, "tickWidth": 1,
            "labelFont": "Liberation Serif", "labelFontSize": 31, "labelColor": "black", "labelPadding": 21,
            "title": "Weekly Stream Temperatures (⁰C)",
            "titleFont": "Liberation Serif", "titleFontSize": 36, "titleFontWeight": "bold", "titleColor": "black",
            "titleBaseline": "alphabetic", "titleAlign": "center", "titleAngle": -90, "titleX": -102, "titleY": 262
          }
        }
      }
    },
    {
      "data": {"name": "curve"},
      "mark": {"type": "line", "color": "black", "strokeWidth": 4, "interpolate": "monotone"},
      "encoding": {
        "x": {"field": "air", "type": "quantitative"},
        "y": {"field": "stream", "type": "quantitative"}
      }
    },
    {
      "data": {"name": "params"},
      "mark": {"type": "text", "align": "left", "baseline": "alphabetic", "font": "Liberation Serif", "fontSize": 34, "color": "black"},
      "encoding": {
        "x": {"field": "air", "type": "quantitative"},
        "y": {"field": "stream", "type": "quantitative"},
        "text": {"field": "label"}
      }
    },
    {
      "data": {"values": [{"air": 10.1, "stream": 27.97, "label": "NSC"}]},
      "mark": {"type": "text", "align": "right", "baseline": "alphabetic", "font": "Liberation Serif", "fontSize": 39, "fontWeight": "bold", "fontStyle": "italic", "color": "black"},
      "encoding": {
        "x": {"field": "air", "type": "quantitative"},
        "y": {"field": "stream", "type": "quantitative"},
        "text": {"field": "label"}
      }
    },
    {
      "data": {"values": [{"air": 10.3, "stream": 27.97, "label": "=0.96"}]},
      "mark": {"type": "text", "align": "left", "baseline": "alphabetic", "font": "Liberation Serif", "fontSize": 39, "fontWeight": "bold", "color": "black"},
      "encoding": {
        "x": {"field": "air", "type": "quantitative"},
        "y": {"field": "stream", "type": "quantitative"},
        "text": {"field": "label"}
      }
    }
  ]
}
